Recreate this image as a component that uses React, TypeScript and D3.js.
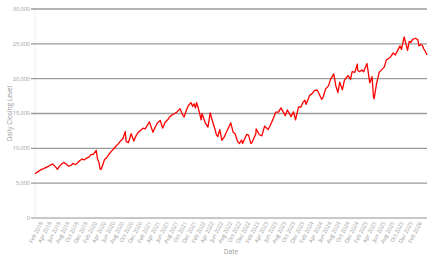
import React from "react";
import * as d3 from "d3";

const dates: string[] = [
  "2019-01-02","2019-01-15","2019-02-01","2019-02-15","2019-03-01","2019-03-15","2019-04-01","2019-04-15","2019-05-01","2019-05-15","2019-06-03","2019-06-17","2019-07-01","2019-07-15","2019-08-01","2019-08-15","2019-09-03","2019-09-16","2019-10-01","2019-10-15","2019-11-01","2019-11-15","2019-12-02","2019-12-16","2019-12-31",
  "2020-01-15","2020-01-31","2020-02-19","2020-02-28","2020-03-09","2020-03-16","2020-03-23","2020-04-01","2020-04-15","2020-05-01","2020-05-15","2020-06-01","2020-06-15","2020-07-01","2020-07-15","2020-08-03","2020-08-17","2020-09-02","2020-09-08","2020-09-23","2020-10-12","2020-10-30","2020-11-16","2020-12-01","2020-12-15","2020-12-31",
  "2021-01-15","2021-02-12","2021-03-08","2021-03-22","2021-04-05","2021-04-26","2021-05-12","2021-05-28","2021-06-15","2021-06-30","2021-07-15","2021-08-02","2021-08-16","2021-09-07","2021-09-20","2021-10-04","2021-10-20","2021-11-02","2021-11-19","2021-12-01","2021-12-10","2021-12-20","2021-12-27",
  "2022-01-10","2022-01-27","2022-02-02","2022-02-23","2022-03-14","2022-03-29","2022-04-12","2022-04-29","2022-05-11","2022-05-20","2022-06-02","2022-06-16","2022-07-01","2022-07-20","2022-08-15","2022-08-31","2022-09-13","2022-09-30","2022-10-13","2022-10-27","2022-11-03","2022-11-30","2022-12-13","2022-12-28",
  "2023-01-05","2023-01-31","2023-02-02","2023-02-24","2023-03-13","2023-03-31","2023-04-25","2023-05-18","2023-06-01","2023-06-15","2023-07-03","2023-07-19","2023-08-18","2023-09-01","2023-09-26","2023-10-12","2023-10-26","2023-11-15","2023-12-01","2023-12-15","2023-12-28",
  "2024-01-05","2024-01-29","2024-02-15","2024-03-01","2024-03-21","2024-04-19","2024-04-30","2024-05-15","2024-06-05","2024-06-18","2024-07-10","2024-07-24","2024-08-07","2024-08-19","2024-09-06","2024-09-20","2024-10-14","2024-10-31","2024-11-11","2024-11-29","2024-12-16","2024-12-18","2024-12-31",
  "2025-01-15","2025-01-27","2025-02-19","2025-03-10","2025-03-25","2025-04-04","2025-04-08","2025-04-24","2025-05-12","2025-05-30","2025-06-16","2025-06-30","2025-07-15","2025-07-31","2025-08-15","2025-08-29","2025-09-15","2025-09-30","2025-10-10","2025-10-28","2025-11-04","2025-11-20","2025-12-01","2025-12-12","2025-12-24",
  "2026-01-12","2026-01-28","2026-02-05","2026-02-17","2026-02-27","2026-03-09","2026-03-20","2026-03-31"
];

const closes: number[] = [
  6360,6550,6800,6980,7100,7240,7400,7600,7750,7450,7000,7450,7750,7980,7750,7450,7550,7850,7650,7900,8250,8450,8350,8600,8730,
  9100,9150,9720,8460,7950,7020,6990,7490,8400,8700,9150,9600,9900,10300,10600,11100,11400,12400,11000,10800,12100,11050,11900,12350,12600,12890,
  12800,13800,12300,13000,13600,14000,12900,13700,14100,14550,14800,15000,15200,15700,15000,14500,15500,16150,16570,16000,16400,15800,16570,
  15600,14100,15000,13700,13050,15100,14000,12850,11900,11700,12700,11130,11600,12500,13650,12300,12100,10970,10700,11200,10700,12000,11900,10700,
  10800,12100,12800,11950,11800,13180,12700,13750,14450,15200,15200,15800,14700,15500,14550,15250,14100,15950,15900,16600,16900,
  16300,17600,17850,18300,18350,17040,17400,18500,19000,19900,20680,18950,18000,19500,18400,19800,20450,19900,21000,20900,22100,21200,21000,
  21240,21000,22170,19400,20280,17400,17090,19200,20900,21300,21700,22700,22900,23200,23700,23400,24100,24700,24200,26000,25400,24050,25350,25200,25650,
  25800,25600,24700,24900,24800,24300,23900,23400
];

const yTicks: number[] = [0, 5000, 10000, 15000, 20000, 25000, 30000];

const W = 436;
const H = 260;
const left = 35;
const right = 427;
const top = 9;
const bottom = 218;
const font = "'Open Sans', 'Liberation Sans', sans-serif";

export default function App() {
  const parse = d3.timeParse("%Y-%m-%d");
  const data = dates.map((d, i) => ({ date: parse(d) as Date, v: closes[i] }));
  const x = d3
    .scaleTime()
    .domain(d3.extent(data, (d) => d.date) as [Date, Date])
    .range([left, right]);
  const y = d3.scaleLinear().domain([0, 30000]).range([bottom, top]);
  const line = d3
    .line<{ date: Date; v: number }>()
    .x((d) => x(d.date))
    .y((d) => y(d.v));

  const xTicks = d3.timeMonth.range(new Date(2019, 1, 1), new Date(2026, 2, 2), 2);
  const fmtX = d3.timeFormat("%b %Y");
  const fmtY = d3.format(",");

  return (
    <svg
      width={W}
      height={H}
      style={{ position: "fixed", left: 0, top: 0, background: "#fff" }}
      fontFamily={font}
    >
      <line x1={left} x2={left} y1={top} y2={bottom} stroke="#eee" strokeWidth={1} />
      {yTicks.map((t) => (
        <g key={t}>
          <line
            x1={left - 4}
            x2={right}
            y1={y(t)}
            y2={y(t)}
            stroke={t === 0 ? "#c8c8c8" : "#9a9a9a"}
            strokeWidth={t === 0 ? 2 : 1.3}
          />
          <text
            x={left - 5}
            y={y(t)}
            dy="0.35em"
            textAnchor="end"
            fontSize={5.5}
            fill="#999"
          >
            {fmtY(t)}
          </text>
        </g>
      ))}
      {xTicks.map((t, i) => (
        <text
          key={i}
          transform={`translate(${x(t) + 2},${bottom + 4}) rotate(-62)`}
          textAnchor="end"
          dy="0.35em"
          fontSize={5.5}
          fill="#999"
        >
          {fmtX(t)}
        </text>
      ))}
      <path d={line(data) || ""} fill="none" stroke="#ff0000" strokeWidth={1.3} strokeLinejoin="round" />
      <text
        transform={`translate(12,${(top + bottom) / 2}) rotate(-90)`}
        textAnchor="middle"
        fontSize={6.5}
        fill="#999"
      >
        Daily Closing Level
      </text>
      <text x={(left + right) / 2} y={254} textAnchor="middle" fontSize={6.5} fill="#999">
        Date
      </text>
    </svg>
  );
}
